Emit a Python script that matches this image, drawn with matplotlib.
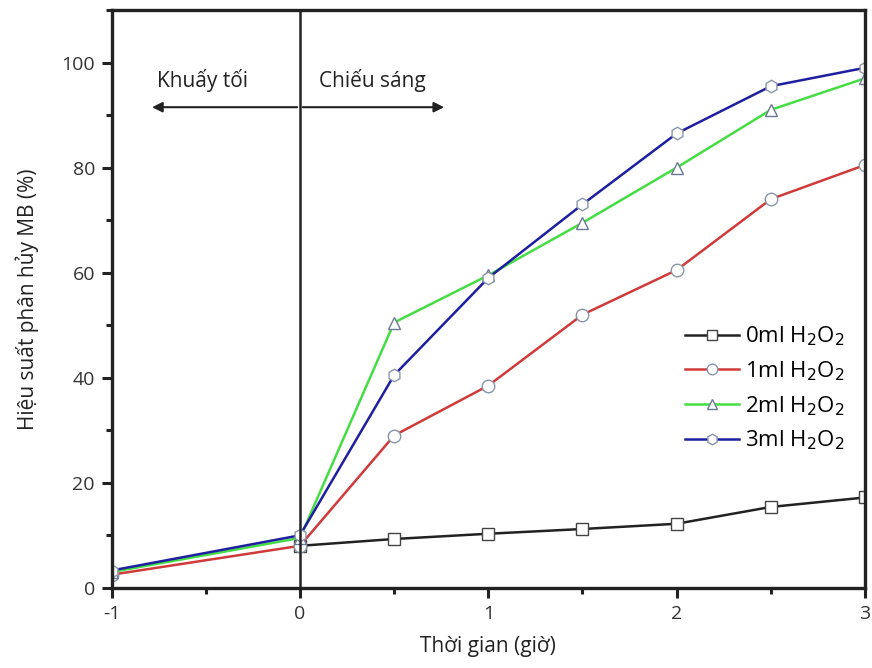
import numpy as np
import matplotlib.pyplot as plt
from matplotlib.ticker import MultipleLocator

plt.rcParams['font.family'] = ['Open Sans', 'DejaVu Sans']
plt.rcParams['axes.unicode_minus'] = False

t_dark = [-1, 0]
t_light = [0, 0.5, 1, 1.5, 2, 2.5, 3]

h0 = [8.0, 9.3, 10.3, 11.2, 12.2, 15.4, 17.2]
h1 = [2.5, 8.0, 29.0, 38.5, 52.0, 60.5, 74.0, 80.5]
h2 = [3.0, 9.5, 50.5, 59.5, 69.5, 80.0, 91.0, 97.0]
h3 = [3.3, 10.0, 40.5, 59.0, 73.0, 86.5, 95.5, 99.0]

labels = ["0ml H$_2$O$_2$", "1ml H$_2$O$_2$", "2ml H$_2$O$_2$", "3ml H$_2$O$_2$"]

fig = plt.figure(figsize=(8.72, 6.68), dpi=100)
ax = fig.add_axes([0.128, 0.12, 0.864, 0.865])

t_all = t_dark + t_light[1:]
edge = "#8a96a8"
ax.plot(t_light, h0, "-s", color="#222222", mfc="white", mec="#444444", ms=8, lw=1.8, label=labels[0])
ax.plot(t_all, h1, "-o", color="#d03a3a", mfc="white", mec=edge, ms=9, lw=1.8, label=labels[1])
ax.plot(t_all, h2, "-^", color="#44dd44", mfc="white", mec="#6a7a96", ms=9, lw=1.8, label=labels[2])
ax.plot(t_all, h3, "-h", color="#1e1ea0", mfc="white", mec=edge, ms=9, lw=1.8, label=labels[3])

ax.axvline(0, color="#222222", lw=1.8)

ax.annotate("", xy=(-0.8, 91.5), xytext=(0, 91.5),
            arrowprops=dict(arrowstyle="-|>", color="#222222", lw=1.5, mutation_scale=15))
ax.annotate("", xy=(0.78, 91.5), xytext=(0, 91.5),
            arrowprops=dict(arrowstyle="-|>", color="#222222", lw=1.5, mutation_scale=15))
ax.text(-0.76, 96.5, "Khuấy tối", fontsize=15, ha="left", va="center", color="#222222")
ax.text(0.1, 96.5, "Chiếu sáng", fontsize=15, ha="left", va="center", color="#222222")

ax.set_xlim(-1, 3)
ax.set_ylim(0, 110)
ax.xaxis.set_major_locator(MultipleLocator(1))
ax.xaxis.set_minor_locator(MultipleLocator(0.5))
ax.yaxis.set_major_locator(MultipleLocator(20))
ax.yaxis.set_minor_locator(MultipleLocator(10))
ax.tick_params(which="both", direction="out", width=2.2, color="#222222", labelcolor="#333333", labelsize=14)
ax.tick_params(which="major", length=7, pad=5)
ax.tick_params(which="minor", length=4)
for s in ax.spines.values():
    s.set_linewidth(2.4)
    s.set_color("#222222")

ax.set_xlabel("Thời gian (giờ)", fontsize=15, color="#222222", labelpad=10)
ax.set_ylabel("Hiệu suất phân hủy MB (%)", fontsize=15, color="#222222", labelpad=16)

leg = ax.legend(loc="lower right", bbox_to_anchor=(1.0, 0.2), frameon=False, fontsize=16,
                handlelength=2.4, handletextpad=0.3, labelspacing=0.5, markerscale=0.85)

fig.savefig("out.png", dpi=100)
